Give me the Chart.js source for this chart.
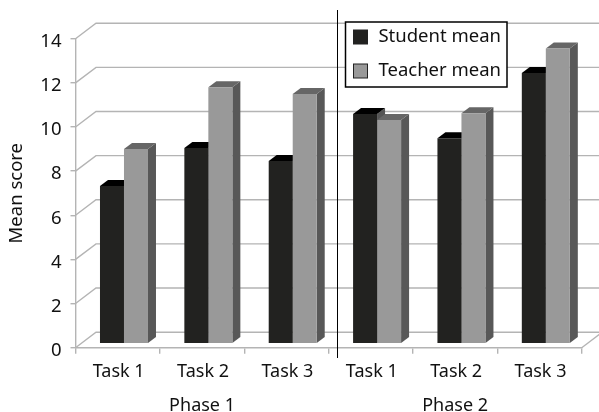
<!DOCTYPE html>
<html lang="en">
<head>
  <meta charset="UTF-8" />
  <title>Mean score by task and phase</title>
  <script src="https://cdn.jsdelivr.net/npm/chart.js"></script>
  <style>
    body { margin: 0; background: #fff; }
    canvas { display: block; }
  </style>
</head>
<body>
  <canvas id="scoreChart" width="599" height="412"></canvas>

  <script>
    const taskLabels = ["Task 1", "Task 2", "Task 3", "Task 1", "Task 2", "Task 3"];
    const phaseLabels = ["", "Phase 1", "", "", "Phase 2", ""];
    const studentMean = [7.15, 8.87, 8.28, 10.41, 9.31, 12.27];
    const teacherMean = [8.82, 11.62, 11.31, 10.14, 10.44, 13.37];

    const FONT = "'Noto Sans', sans-serif";
    const TEXT = "#111";
    const GRID = "#b4b4b4";

    // fake 3D: how far the back wall and the bar depth are pushed
    const WALL_X = 20.5, WALL_Y = 15.5;
    const BAR_SHIFT_X = 6.3, BAR_SHIFT_Y = 4;
    const DEPTH_X = 8, DEPTH_Y = 6;

    const wallPlugin = {
      id: "wall",
      beforeDatasetsDraw(chart) {
        const { ctx, chartArea, scales } = chart;
        ctx.save();
        ctx.strokeStyle = GRID;
        ctx.lineWidth = 1.4;
        scales.y.ticks.forEach(t => {
          const py = scales.y.getPixelForValue(t.value);
          ctx.beginPath();
          ctx.moveTo(chartArea.left, py);
          ctx.lineTo(chartArea.left + WALL_X, py - WALL_Y);
          ctx.lineTo(chart.width, py - WALL_Y);
          ctx.stroke();
        });
        ctx.beginPath();
        ctx.moveTo(chartArea.right, chartArea.bottom);
        ctx.lineTo(chartArea.right + WALL_X, chartArea.bottom - WALL_Y);
        ctx.stroke();
        ctx.restore();
      }
    };

    // tops and sides go first, student then teacher, the fronts cover them afterwards
    const barDepthPlugin = {
      id: "barDepth",
      beforeDatasetsDraw(chart) {
        const ctx = chart.ctx;
        ctx.save();
        ctx.translate(BAR_SHIFT_X, -BAR_SHIFT_Y);
        chart.data.datasets.forEach((ds, i) => {
          chart.getDatasetMeta(i).data.forEach(bar => {
            const l = bar.x - bar.width / 2, r = bar.x + bar.width / 2;
            ctx.fillStyle = ds.sideColor;
            ctx.beginPath();
            ctx.moveTo(r, bar.y);
            ctx.lineTo(r + DEPTH_X, bar.y - DEPTH_Y);
            ctx.lineTo(r + DEPTH_X, bar.base - DEPTH_Y);
            ctx.lineTo(r, bar.base);
            ctx.closePath();
            ctx.fill();
            ctx.fillStyle = ds.topColor;
            ctx.beginPath();
            ctx.moveTo(l, bar.y);
            ctx.lineTo(l + DEPTH_X, bar.y - DEPTH_Y);
            ctx.lineTo(r + DEPTH_X, bar.y - DEPTH_Y);
            ctx.lineTo(r, bar.y);
            ctx.closePath();
            ctx.fill();
          });
        });
        ctx.restore();
      },
      beforeDatasetDraw(chart) {
        chart.ctx.save();
        chart.ctx.translate(BAR_SHIFT_X, -BAR_SHIFT_Y);
      },
      afterDatasetDraw(chart) {
        chart.ctx.restore();
      }
    };

    const overlayPlugin = {
      id: "overlay",
      afterDraw(chart) {
        const ctx = chart.ctx;
        ctx.save();
        // line between the two phases
        ctx.strokeStyle = "#000";
        ctx.lineWidth = 1;
        ctx.beginPath();
        ctx.moveTo(337.5, 10);
        ctx.lineTo(337.5, 358);
        ctx.stroke();
        // legend box
        ctx.fillStyle = "#fff";
        ctx.fillRect(345.5, 22, 161.5, 65);
        ctx.lineWidth = 1.5;
        ctx.strokeRect(345.5, 22, 161.5, 65);
        ctx.font = "18.5px " + FONT;
        ctx.textAlign = "right";
        ctx.textBaseline = "middle";
        chart.data.datasets.forEach((ds, i) => {
          const y = 37 + i * 34;
          ctx.fillStyle = ds.backgroundColor;
          ctx.fillRect(353.5, y - 7, 14, 14);
          ctx.strokeStyle = "#222";
          ctx.lineWidth = 1;
          ctx.strokeRect(353.5, y - 7, 14, 14);
          ctx.fillStyle = TEXT;
          ctx.fillText(ds.label, 501, y);
        });
        ctx.restore();
      }
    };

    new Chart(document.getElementById("scoreChart"), {
      type: "bar",
      data: {
        labels: taskLabels,
        datasets: [
          { label: "Student mean", data: studentMean, backgroundColor: "#222220", topColor: "#000", sideColor: "#555" },
          { label: "Teacher mean", data: teacherMean, backgroundColor: "#999", topColor: "#666", sideColor: "#585858" }
        ]
      },
      plugins: [wallPlugin, barDepthPlugin, overlayPlugin],
      options: {
        responsive: false,
        animation: false,
        categoryPercentage: 0.569,
        barPercentage: 1,
        layout: { padding: { top: 38.7, right: 17.3 } },
        plugins: { legend: { display: false }, tooltip: { enabled: false } },
        scales: {
          y: {
            min: 0,
            max: 14,
            ticks: { stepSize: 2, color: TEXT, padding: 9, labelOffset: 3, font: { family: FONT, size: 18.5 } },
            grid: { drawOnChartArea: false, tickLength: 5, color: GRID, lineWidth: 1.4 },
            border: { color: GRID, width: 1.4 },
            title: { display: true, text: "Mean score", color: TEXT, padding: { top: 6, bottom: 0 }, font: { family: FONT, size: 18.5 } },
            afterFit(scale) { scale.width = 75.5; }
          },
          x: {
            ticks: { color: TEXT, padding: 7, labelOffset: 1, maxRotation: 0, autoSkip: false, font: { family: FONT, size: 18 } },
            grid: { drawOnChartArea: false, tickLength: 6, color: GRID, lineWidth: 1.4 },
            border: { color: GRID, width: 1.4 },
            afterFit(scale) { scale.height = 39; }
          },
          x2: {
            type: "category",
            position: "bottom",
            labels: phaseLabels,
            ticks: { color: TEXT, padding: 0, maxRotation: 0, autoSkip: false, font: { family: FONT, size: 18 } },
            grid: { display: false },
            border: { display: false },
            afterFit(scale) { scale.height = 25.3; }
          }
        }
      }
    });
  </script>
</body>
</html>
